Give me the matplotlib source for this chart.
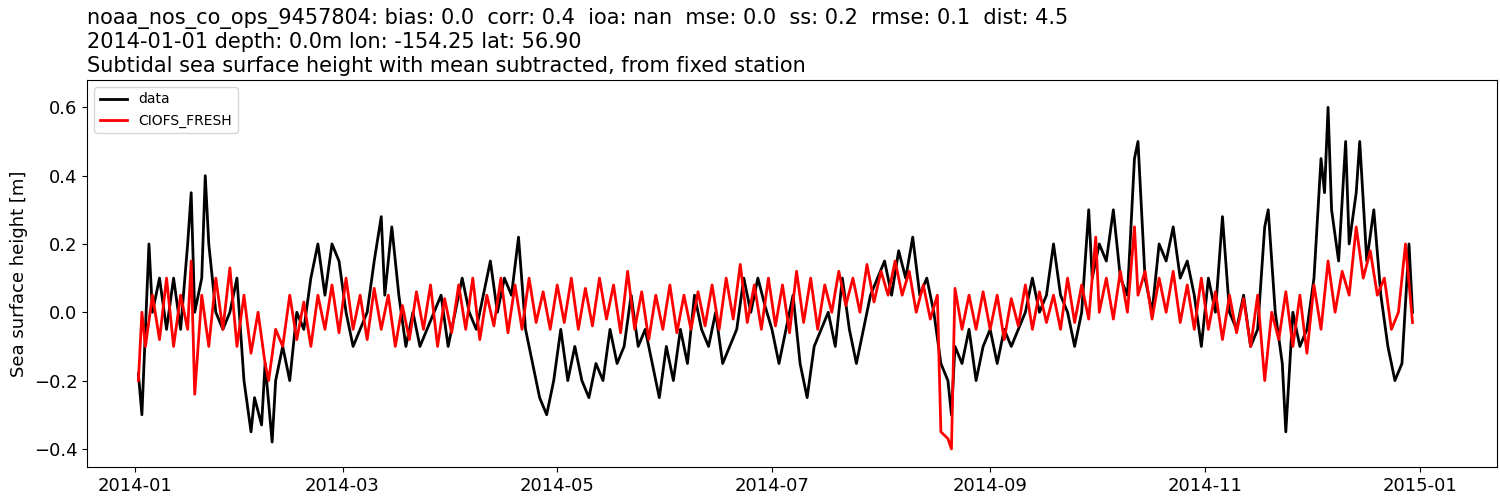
import numpy as np
import pandas as pd
import matplotlib
matplotlib.use("Agg")
import matplotlib.pyplot as plt

data_days = [1,2,4,5,7,9,11,13,15,16,17,19,20,21,23,25,27,29,31,33,34,36,37,39,40,42,44,46,48,50,52,54,56,58,60,62,64,66,68,70,71,73,75,77,79,81,83,85,87,89,91,93,95,97,99,101,103,105,107,109,111,113,115,117,119,121,123,125,127,129,131,133,135,137,139,141,143,145,147,149,151,153,155,157,159,161,163,165,167,169,171,173,175,177,179,181,183,185,187,189,191,193,195,197,199,201,203,205,207,209,211,213,215,217,219,221,223,225,227,229,231,232,233,235,237,239,241,243,245,247,249,251,253,255,257,259,261,263,265,267,269,271,272,274,276,278,280,282,284,285,287,289,291,293,295,297,299,301,303,305,307,309,311,313,315,317,319,321,322,324,326,327,329,331,333,335,337,338,339,340,342,344,345,347,348,350,352,354,356,358,360,362,363]
data_vals = [-0.18,-0.3,0.2,0.0,0.1,-0.05,0.1,-0.05,0.2,0.35,0.0,0.1,0.4,0.2,0.0,-0.05,0.0,0.1,-0.2,-0.35,-0.25,-0.33,-0.15,-0.38,-0.2,-0.1,-0.2,0.0,-0.05,0.1,0.2,0.05,0.2,0.15,0.0,-0.1,-0.05,0.0,0.15,0.28,0.05,0.25,0.05,-0.1,0.0,-0.1,-0.05,0.0,0.05,-0.1,0.0,0.1,0.0,-0.05,0.05,0.15,0.0,0.1,0.05,0.22,-0.05,-0.15,-0.25,-0.3,-0.2,-0.05,-0.2,-0.1,-0.2,-0.25,-0.15,-0.2,-0.05,-0.15,-0.1,0.05,-0.1,-0.05,-0.15,-0.25,-0.1,-0.2,-0.05,-0.15,0.05,-0.05,-0.1,0.0,-0.15,-0.1,-0.05,0.1,0.0,0.1,0.02,-0.05,-0.15,-0.05,0.05,-0.15,-0.25,-0.1,-0.05,0.0,-0.1,0.1,-0.05,-0.15,-0.05,0.05,0.1,0.15,0.05,0.18,0.1,0.22,0.05,0.1,0.0,-0.15,-0.2,-0.3,-0.1,-0.15,-0.05,-0.2,-0.1,-0.05,-0.15,-0.05,-0.1,-0.05,0.0,0.1,0.0,0.05,0.2,0.05,0.0,-0.1,0.0,0.3,0.1,0.2,0.15,0.3,0.1,0.05,0.45,0.5,0.1,0.0,0.2,0.15,0.25,0.1,0.15,0.05,-0.1,0.1,0.0,0.28,0.0,-0.05,0.05,-0.1,-0.05,0.25,0.3,0.0,-0.15,-0.35,0.0,-0.1,-0.05,0.1,0.45,0.35,0.6,0.3,0.15,0.5,0.2,0.35,0.5,0.15,0.3,0.05,-0.1,-0.2,-0.15,0.2,0.0]

model_days = [1,2,3,5,7,9,11,13,15,16,17,19,21,23,25,27,29,31,33,35,37,38,40,42,44,46,48,50,52,54,56,58,60,62,64,66,68,70,72,74,76,78,80,82,84,86,88,90,92,94,96,98,100,102,104,106,108,110,112,114,116,118,120,122,124,126,128,130,132,134,136,138,140,142,144,146,148,150,152,154,156,158,160,162,164,166,168,170,172,174,176,178,180,182,184,186,188,190,192,194,196,198,200,202,204,206,208,210,212,214,216,218,220,222,224,226,228,229,231,232,233,235,237,239,241,243,245,247,249,251,253,255,257,259,261,263,265,267,269,271,273,274,276,278,280,282,284,285,287,289,291,293,295,297,299,301,303,305,307,309,311,313,315,317,319,321,323,325,327,329,331,333,335,337,339,341,343,345,347,349,351,353,355,357,359,361,363]
model_vals = [-0.2,0.0,-0.1,0.05,-0.08,0.1,-0.1,0.05,-0.05,0.15,-0.24,0.05,-0.1,0.1,-0.05,0.13,-0.1,0.05,-0.12,0.0,-0.15,-0.2,-0.05,-0.1,0.05,-0.08,0.03,-0.1,0.05,-0.05,0.08,-0.06,0.1,-0.05,0.05,-0.08,0.07,-0.05,0.05,-0.1,0.02,-0.08,0.06,-0.05,0.08,-0.1,0.04,-0.06,0.08,-0.05,0.1,-0.08,0.05,-0.04,0.1,-0.06,0.08,-0.05,0.1,-0.03,0.06,-0.05,0.08,-0.03,0.1,-0.05,0.07,-0.04,0.1,-0.02,0.08,-0.06,0.12,-0.05,0.06,-0.08,0.05,-0.05,0.08,-0.06,0.05,-0.05,0.06,-0.04,0.08,-0.05,0.1,-0.02,0.14,-0.03,0.08,-0.05,0.1,-0.04,0.08,-0.06,0.12,-0.03,0.1,-0.05,0.08,0.0,0.12,0.02,0.1,0.0,0.14,0.03,0.12,0.05,0.15,0.05,0.12,0.0,0.08,-0.02,0.05,-0.35,-0.37,-0.4,0.07,-0.05,0.05,-0.05,0.06,-0.05,0.05,-0.08,0.04,-0.04,0.08,-0.05,0.06,-0.03,0.05,-0.05,0.1,-0.03,0.08,-0.02,0.22,0.0,0.1,-0.02,0.12,0.0,0.25,0.05,0.12,-0.02,0.1,0.0,0.12,-0.03,0.08,-0.05,0.1,-0.05,0.06,-0.08,0.05,-0.06,0.04,-0.1,0.05,-0.2,0.0,-0.08,0.06,-0.1,0.05,-0.12,0.08,-0.05,0.15,0.0,0.12,0.05,0.25,0.1,0.18,0.05,0.1,-0.05,0.0,0.2,-0.03]

start = pd.Timestamp("2014-01-01")
data_t = start + pd.to_timedelta(data_days, unit="D")
model_t = start + pd.to_timedelta(model_days, unit="D")

fig = plt.figure(figsize=(15, 5), dpi=100)
ax = fig.add_axes([0.058, 0.066, 0.94, 0.774])
ax.plot(data_t, data_vals, color="black", lw=2, label="data")
ax.plot(model_t, model_vals, color="red", lw=2, label="CIOFS_FRESH")
ax.set_ylabel("Sea surface height [m]", fontsize=13)
ax.tick_params(labelsize=13)
ax.set_xticks(pd.to_datetime(["2014-01-01","2014-03-01","2014-05-01","2014-07-01","2014-09-01","2014-11-01","2015-01-01"]))
ax.set_xticklabels(["2014-01","2014-03","2014-05","2014-07","2014-09","2014-11","2015-01"])
ax.set_xlim(start - pd.Timedelta(days=13.6), start + pd.Timedelta(days=387))
ax.set_ylim(-0.453, 0.68)
ax.legend(loc="upper left", fontsize=10)
ax.set_title("noaa_nos_co_ops_9457804: bias: 0.0  corr: 0.4  ioa: nan  mse: 0.0  ss: 0.2  rmse: 0.1  dist: 4.5\n"
             "2014-01-01 depth: 0.0m lon: -154.25 lat: 56.90\n"
             "Subtidal sea surface height with mean subtracted, from fixed station",
             loc="left", fontsize=15, linespacing=1.2)
fig.savefig("out.png")
